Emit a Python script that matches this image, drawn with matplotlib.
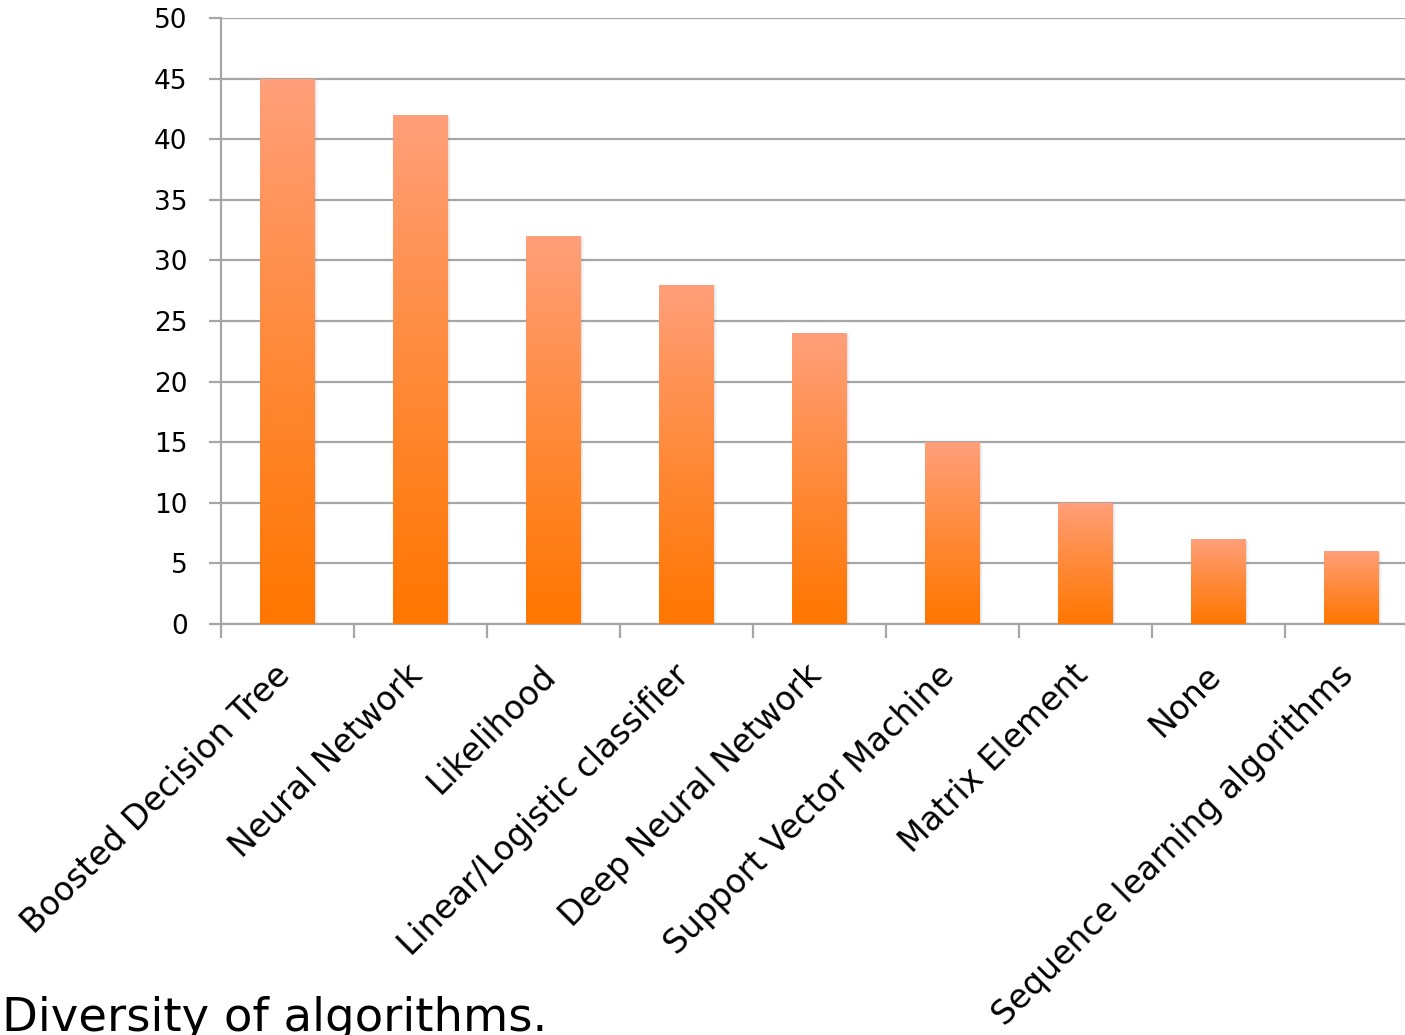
import numpy as np
import matplotlib
matplotlib.use("Agg")
import matplotlib.pyplot as plt
from matplotlib.colors import LinearSegmentedColormap
from matplotlib.patches import Rectangle

categories = [
    "Boosted Decision Tree",
    "Neural Network",
    "Likelihood",
    "Linear/Logistic classifier",
    "Deep Neural Network",
    "Support Vector Machine",
    "Matrix Element",
    "None",
    "Sequence learning algorithms",
]
counts = [45, 42, 32, 28, 24, 15, 10, 7, 6]
y_ticks = [0, 5, 10, 15, 20, 25, 30, 35, 40, 45, 50]

W, H = 1405, 1035
fig = plt.figure(figsize=(W / 100, H / 100), dpi=100)
plt.rcParams["font.family"] = ["DejaVu Sans"]

# axes box in pixel coordinates (right edge runs past the canvas)
x0, x1 = 221, 1418
yb, yt = 624, 18
ax = fig.add_axes([x0 / W, (H - yb) / H, (x1 - x0) / W, (yb - yt) / H])

grid_col = "#a6a6a6"
n = len(categories)
x = np.arange(n)
bar_w = 0.41

ax.set_xlim(-0.5, n - 0.5)
ax.set_ylim(0, 50)
ax.set_yticks(y_ticks)
ax.set_yticklabels([str(v) for v in y_ticks], fontsize=19)
ax.yaxis.grid(True, color=grid_col, linewidth=1.6, zorder=0)
ax.set_axisbelow(True)

# category boundaries carry the tick marks; labels sit at category centres
ax.set_xticks(np.arange(n + 1) - 0.5)
ax.set_xticklabels([])
ax.tick_params(axis="x", length=10, width=1.6, color=grid_col, direction="out")
ax.tick_params(axis="y", length=9, width=1.6, color=grid_col, direction="out", pad=15)

for s in ["top", "right"]:
    ax.spines[s].set_visible(False)
for s in ["left", "bottom"]:
    ax.spines[s].set_color(grid_col)
    ax.spines[s].set_linewidth(1.6)

cmap = LinearSegmentedColormap.from_list("orange_fade", ["#ff7600", "#ff8a3a", "#ff9f7a"])
grad = np.linspace(0, 1, 256).reshape(-1, 1)

bars = ax.bar(x, counts, width=bar_w, color="none", edgecolor="none", zorder=3)
for b in bars:
    bx, bw, bh = b.get_x(), b.get_width(), b.get_height()
    # soft drop shadow
    for k, a in enumerate([0.10, 0.07, 0.04]):
        dx = 0.006 * (k + 1)
        dy = 0.08 * (k + 1)
        ax.add_patch(Rectangle((bx + dx * 0.3, -dy), bw + dx, bh + dy * 0.2,
                               facecolor="#7a7a7a", edgecolor="none", alpha=a, zorder=2))
    im = ax.imshow(grad, extent=(bx, bx + bw, 0, bh), origin="lower", cmap=cmap,
                   aspect="auto", zorder=3, interpolation="bilinear")
    im.set_clip_path(b)
ax.set_xlim(-0.5, n - 0.5)
ax.set_ylim(0, 50)

for xi, lab in zip(x, categories):
    ax.text(xi - 0.02, -3.8, lab, rotation=45, ha="right", va="center",
            rotation_mode="anchor", fontsize=23.8, color="black")

fig.text(2 / W, 4 / H, "Diversity of algorithms.", fontsize=33.5, ha="left",
         va="baseline", color="black")

fig.savefig("out.png", dpi=100)
